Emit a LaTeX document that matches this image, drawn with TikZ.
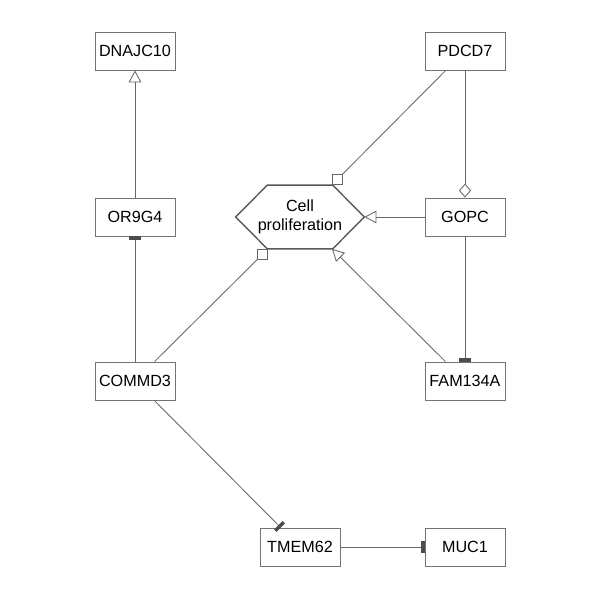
\documentclass[tikz,border=0pt]{standalone}
\usepackage{fontspec}
\setmainfont{Liberation Sans}
\usepackage{tikz}
\usetikzlibrary{arrows.meta}

\begin{document}
\begin{tikzpicture}[x=0.025cm, y=0.025cm, line width=0.6pt, draw=black!60,
    gene/.style={draw=black!55, fill=white, rectangle, minimum width=56.9pt, minimum height=27pt, inner sep=0pt, font=\fontsize{11.5}{13.5}\selectfont},
    proc/.style={rectangle, minimum width=91pt, minimum height=44.8pt, inner sep=0pt, align=center, font=\fontsize{11.5}{13.5}\selectfont},
    act/.style={-{Triangle[open, length=8.5pt, width=9pt]}},
    inh/.style={-{Rectangle[length=2.4pt, width=8.5pt, color=black!70]}},
    sq/.style={draw=black!60, fill=white, rectangle, minimum size=7pt, inner sep=0pt},
    mod/.style={-{Diamond[open, length=10pt, width=8.5pt]}}]
                \useasboundingbox (0,0) rectangle (600,600);
                \node[gene] (DNAJc) at (135,549) {DNAJC10};
                \node[gene] (PDCDc) at (465,549) {PDCD7};
                \node[gene] (ORc) at (135,383) {OR9G4};
                \node[proc] (CPc) at (300,383) {Cell\\proliferation};
                \draw[draw=black!65, line width=1pt] (CPc.west) -- ([xshift=22.6pt]CPc.north west) -- ([xshift=-22.6pt]CPc.north east)
                    -- (CPc.east) -- ([xshift=-22.6pt]CPc.south east) -- ([xshift=22.6pt]CPc.south west) -- cycle;
                \node[gene] (GOPCc) at (465,383) {GOPC};
                \node[gene] (COMMc) at (135,219) {COMMD3};
                \node[gene] (FAMc) at (465,219) {FAM134A};
                \node[gene] (TMEMc) at (300,53) {TMEM62};
                \node[gene] (MUCc) at (465,53) {MUC1};
                \draw[act] (ORc) -- (DNAJc);
                \draw[inh] (COMMc) -- (ORc);
                \draw (PDCDc) -- (CPc) node[sq, pos=1, anchor=south west] (sqa) {};
                \draw[mod] (PDCDc) -- (GOPCc);
                \draw[act] (GOPCc) -- (CPc);
                \draw[inh] (GOPCc) -- (FAMc);
                \draw[act] (FAMc) -- (CPc);
                \draw (COMMc) -- (CPc) node[sq, pos=1, anchor=north east] (sqb) {};
                \draw[inh] (COMMc) -- (TMEMc);
                \draw[inh] (TMEMc) -- (MUCc);
            \end{tikzpicture}
\end{document}
